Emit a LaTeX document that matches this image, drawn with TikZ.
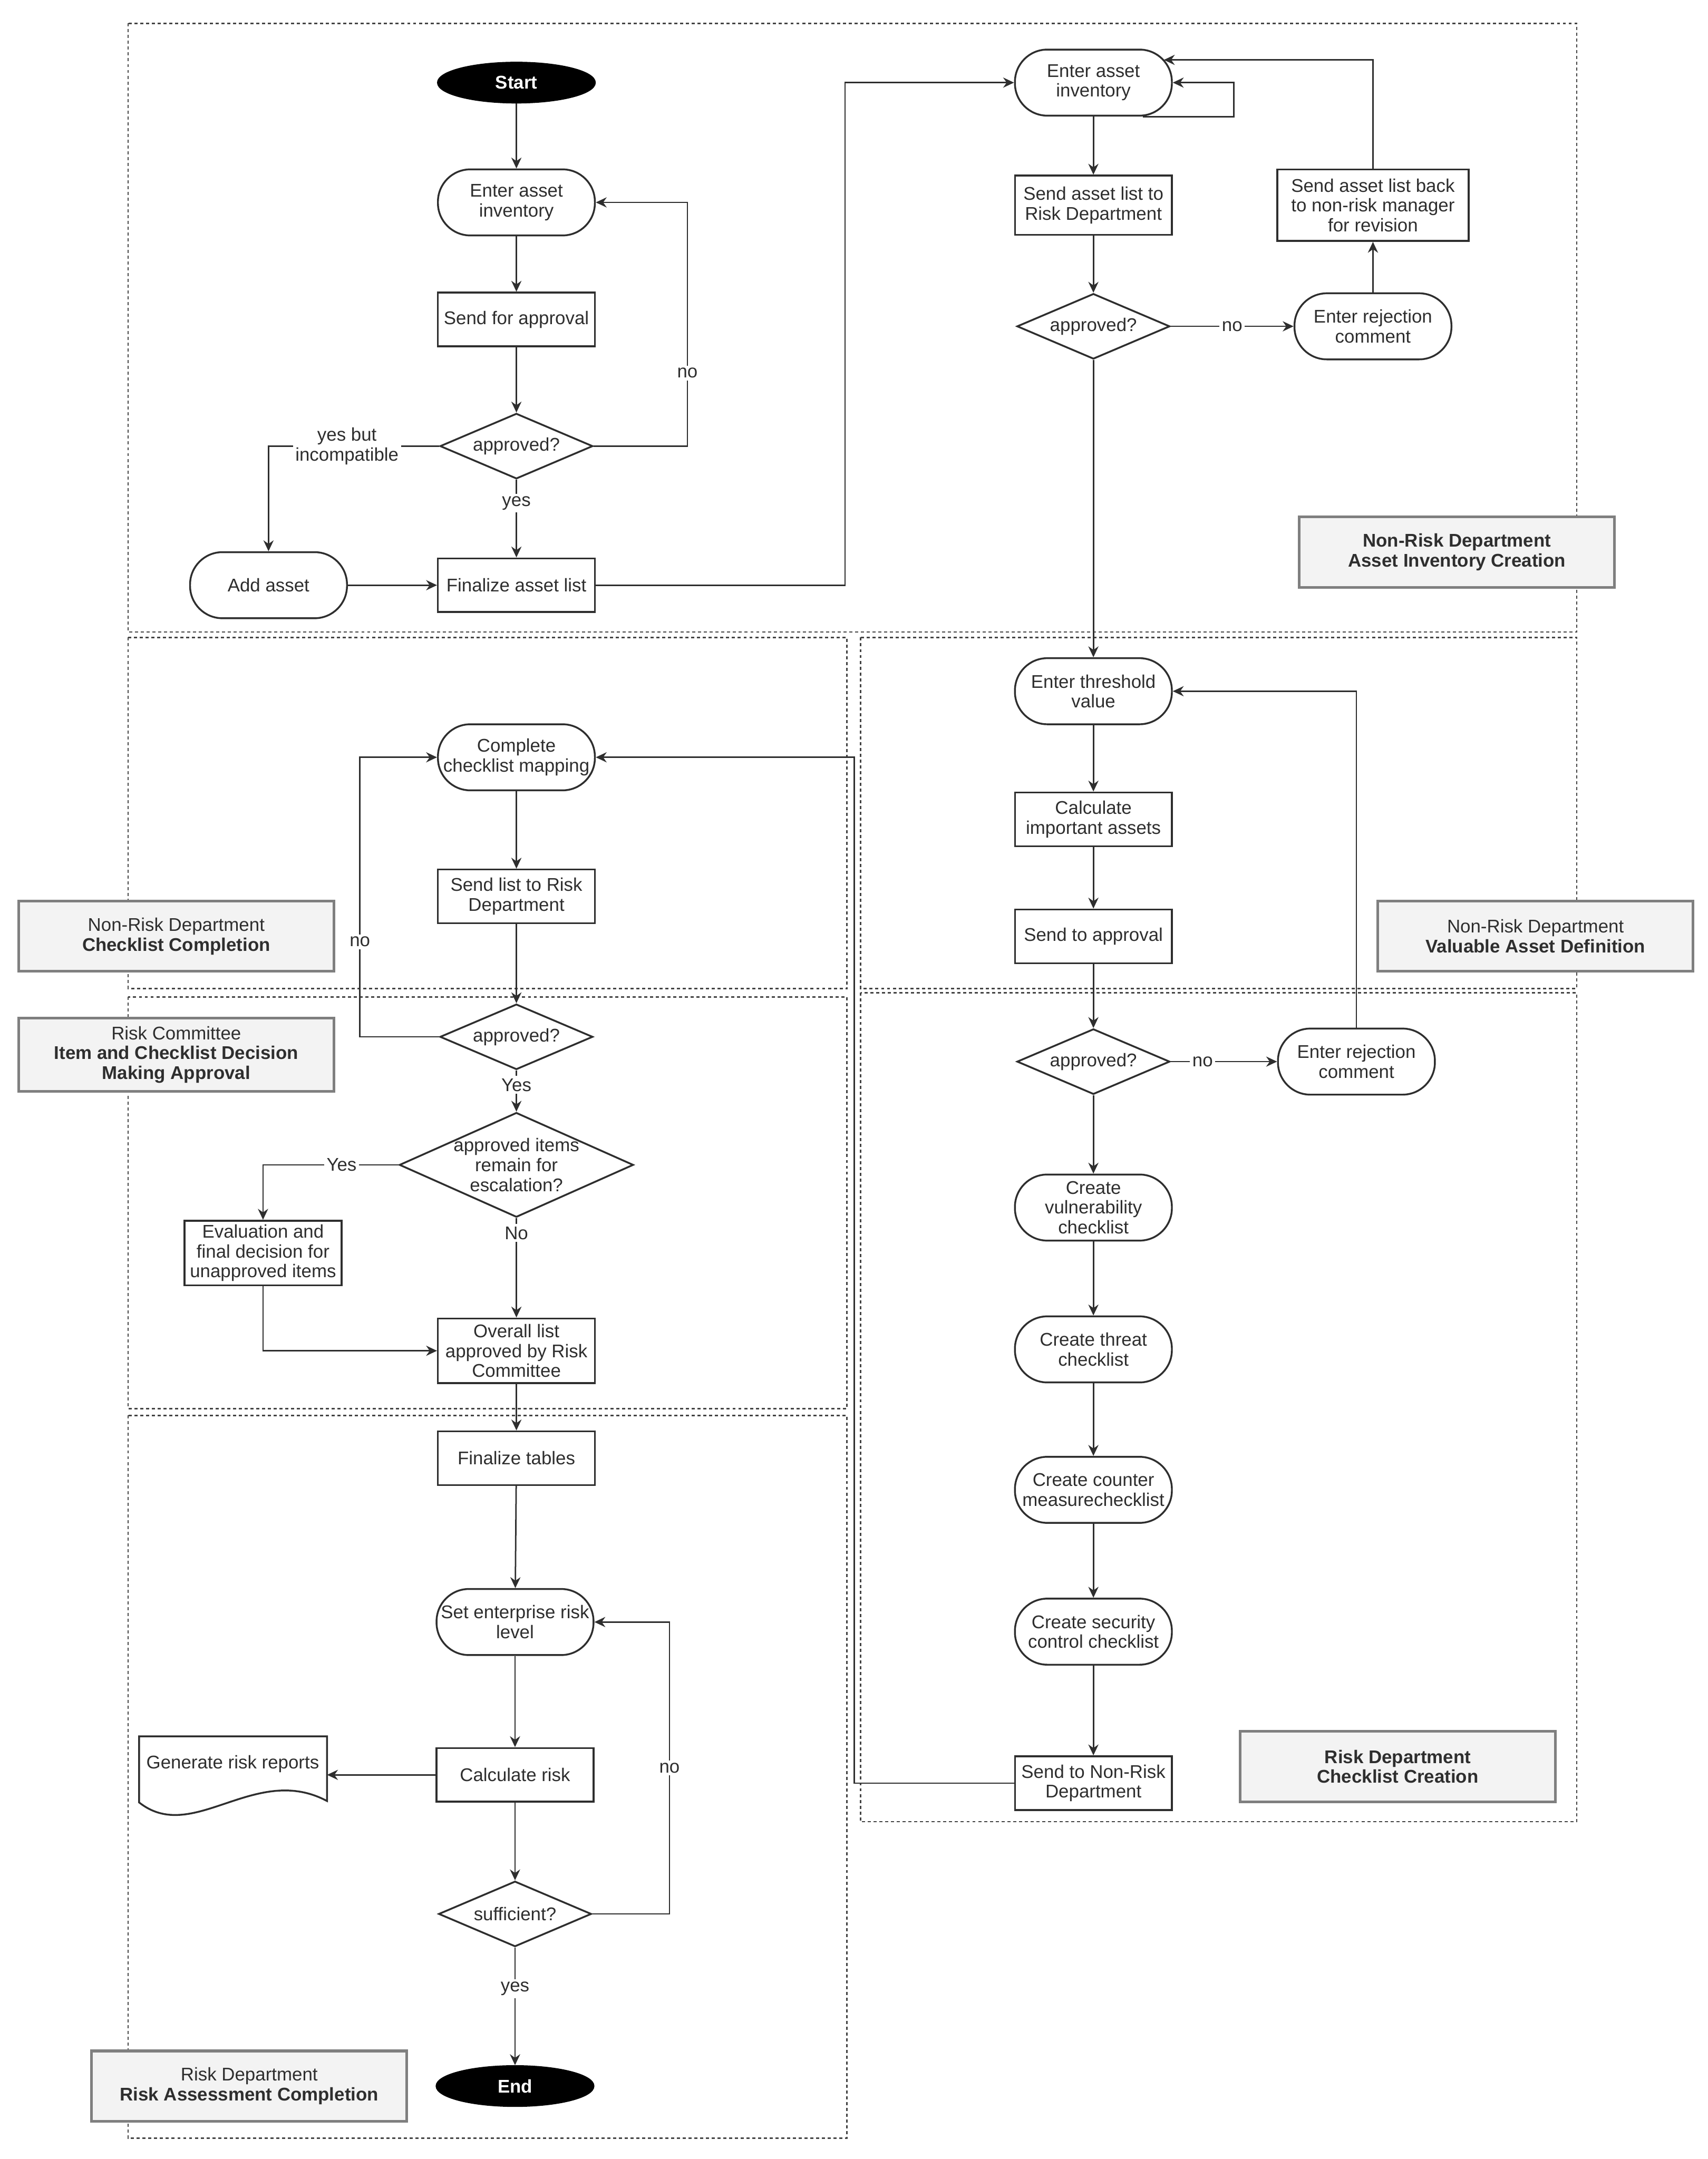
\documentclass[tikz,border=0pt]{standalone}
\usepackage{fontspec}
\setmainfont{Liberation Sans}
\usepackage{tikz}
\usetikzlibrary{positioning, shapes, arrows.meta, calc}

\definecolor{lineclr}{HTML}{2E2E2E}
\definecolor{laneclr}{HTML}{444444}
\definecolor{tagfill}{HTML}{F3F3F3}
\definecolor{tagedge}{HTML}{7F7F7F}
\newcommand{\flowfont}{\fontsize{7.6}{8.2}\selectfont}

\tikzset{
  base/.style={draw=lineclr, line width=0.75pt, text=lineclr, font=\flowfont, align=center, inner sep=1pt, fill=white},
  termbox/.style={base, rectangle, rounded corners=0.47cm, minimum width=2.28cm, minimum height=0.96cm},
  procbox/.style={base, rectangle, minimum width=2.28cm, minimum height=0.78cm},
  decision/.style={base, diamond, aspect=2.3, inner sep=0pt, minimum width=2.22cm, minimum height=0.95cm},
  startstop/.style={base, ellipse, fill=black, draw=black, text=white, font=\flowfont\bfseries, minimum width=2.28cm, minimum height=0.58cm},
  lanetag/.style={draw=tagedge, line width=1.1pt, fill=tagfill, text=lineclr, font=\flowfont, align=center, minimum width=4.58cm, minimum height=1.02cm},
  lane/.style={draw=laneclr, line width=0.6pt, dash pattern=on 1.3pt off 1.1pt},
  flow/.style={draw=lineclr, line width=0.6pt, -{Stealth[length=4.5pt, width=4.2pt]}},
  lbl/.style={fill=white, inner sep=1pt, font=\flowfont, text=lineclr, align=center}
}

\begin{document}
\begin{tikzpicture}[x=0.02cm, y=-0.02cm]
  \useasboundingbox (0,0) rectangle (1240,1568);

  % swim lanes
  \draw[lane] (93,17) rectangle (1145,459);
  \draw[lane] (93,463) rectangle (615,718);
  \draw[lane] (625,463) rectangle (1145,718);
  \draw[lane] (93,724) rectangle (615,1023);
  \draw[lane] (625,721) rectangle (1145,1323);
  \draw[lane] (93,1028) rectangle (615,1553);

  % lane tags
  \node[lanetag] (tagAIC) at (1058,401) {\textbf{Non-Risk Department}\\\textbf{Asset Inventory Creation}};
  \node[lanetag] (tagCC) at (128,680) {Non-Risk Department\\\textbf{Checklist Completion}};
  \node[lanetag] (tagRC) at (128,766) {Risk Committee\\\textbf{Item and Checklist Decision}\\\textbf{Making Approval}};
  \node[lanetag] (tagVAD) at (1115,680) {Non-Risk Department\\\textbf{Valuable Asset Definition}};
  \node[lanetag] (tagRDCC) at (1015,1283) {\textbf{Risk Department}\\\textbf{Checklist Creation}};
  \node[lanetag] (tagRAC) at (181,1515) {Risk Department\\\textbf{Risk Assessment Completion}};

  % asset inventory creation
  \node[startstop] (start) at (375,60) {Start};
  \node[termbox] (inv1) at (375,147) {Enter asset\\inventory};
  \node[procbox] (sendapp) at (375,232) {Send for approval};
  \node[decision] (appr1) at (375,324) {approved?};
  \node[procbox] (finlist) at (375,425) {Finalize asset list};
  \node[termbox] (addasset) at (195,425) {Add asset};

  \node[termbox] (inv2) at (794,60) {Enter asset\\inventory};
  \node[procbox, minimum height=0.86cm] (sendrisk) at (794,149) {Send asset list to\\Risk Department};
  \node[decision] (appr2) at (794,237) {approved?};
  \node[termbox] (rej1) at (997,237) {Enter rejection\\comment};
  \node[procbox, minimum width=2.78cm, minimum height=1.04cm] (sendback) at (997,149) {Send asset list back\\to non-risk manager\\for revision};

  % valuable asset definition
  \node[termbox] (thresh) at (794,502) {Enter threshold\\value};
  \node[procbox] (calcimp) at (794,595) {Calculate\\important assets};
  \node[procbox] (sendto) at (794,680) {Send to approval};
  \node[decision] (appr3) at (794,771) {approved?};
  \node[termbox] (rej2) at (985,771) {Enter rejection\\comment};

  % checklist creation
  \node[termbox] (vuln) at (794,877) {Create\\vulnerability\\checklist};
  \node[termbox] (threat) at (794,980) {Create threat\\checklist};
  \node[termbox] (counter) at (794,1082) {Create counter\\measurechecklist};
  \node[termbox] (secctl) at (794,1185) {Create security\\control checklist};
  \node[procbox] (sendnr) at (794,1295) {Send to Non-Risk\\Department};

  % checklist completion and committee approval
  \node[termbox] (mapping) at (375,550) {Complete\\checklist mapping};
  \node[procbox] (sendlist) at (375,651) {Send list to Risk\\Department};
  \node[decision] (appr4) at (375,753) {approved?};
  \node[decision, inner xsep=-9pt, inner ysep=-3pt, aspect=2.2, minimum width=3.4cm, minimum height=1.52cm] (escal) at (375,846) {approved items\\remain for\\escalation?};
  \node[procbox, minimum height=0.94cm] (eval) at (191,910) {Evaluation and\\final decision for\\unapproved items};
  \node[procbox, minimum height=0.94cm] (overall) at (375,981) {Overall list\\approved by Risk\\Committee};

  % risk assessment completion
  \node[procbox] (fintab) at (375,1059) {Finalize tables};
  \node[termbox] (setrisk) at (374,1178) {Set enterprise risk\\level};
  \node[procbox] (calcrisk) at (374,1289) {Calculate risk};
  \draw[draw=lineclr, line width=0.75pt, fill=white] (101,1261) -- (237.5,1261) -- (237.5,1308)
    .. controls (185,1280) and (140,1340) .. (101,1309) -- cycle;
  \node[lbl, fill=none] (report) at (169,1281) {Generate risk reports};
  \coordinate (reportin) at (237.5,1289);
  \node[decision] (suff) at (374,1390) {sufficient?};
  \node[startstop] (stop) at (374,1515) {End};

  % connectors
  \draw[flow] (start) -- (inv1);
  \draw[flow] (inv1) -- (sendapp);
  \draw[flow] (sendapp) -- (appr1);
  \draw[flow] (appr1.south) -- node[lbl, pos=0.3]{yes} (finlist.north);
  \draw[flow] (appr1.west) -| node[lbl, pos=0.27]{yes but\\incompatible} (addasset.north);
  \draw[flow] (appr1.east) -- ++(68,0) |- node[lbl, pos=0.15]{no} (inv1.east);
  \draw[flow] (addasset) -- (finlist);
  \draw[flow] (finlist.east) -- ++(181,0) |- (inv2.west);

  \draw[flow] ($(inv2.south)+(36,0)$) -- ++(66,0) |- (inv2.east);
  \draw[flow] (inv2) -- (sendrisk);
  \draw[flow] (sendrisk) -- (appr2);
  \draw[flow] (appr2.east) -- node[lbl]{no} (rej1.west);
  \draw[flow] (rej1) -- (sendback);
  \draw[flow] (sendback.north) |- ($(inv2.east)+(-6.5,-16.5)$);
  \draw[flow] (appr2.south) -- (thresh.north);

  \draw[flow] (thresh) -- (calcimp);
  \draw[flow] (calcimp) -- (sendto);
  \draw[flow] (sendto) -- (appr3);
  \draw[flow] (appr3.east) -- node[lbl, pos=0.3]{no} (rej2.west);
  \draw[flow] (rej2.north) |- (thresh.east);

  \draw[flow] (appr3) -- (vuln);
  \draw[flow] (vuln) -- (threat);
  \draw[flow] (threat) -- (counter);
  \draw[flow] (counter) -- (secctl);
  \draw[flow] (secctl) -- (sendnr);
  \draw[flow] (sendnr.west) -- ++(-116,0) |- (mapping.east);

  \draw[flow] (mapping) -- (sendlist);
  \draw[flow] (sendlist) -- (appr4);
  \draw[flow] (appr4.west) -- ++(-57.5,0) |- node[lbl, pos=0.17]{no} (mapping.west);
  \draw[flow] (appr4.south) -- node[lbl, pos=0.35]{Yes} (escal.north);
  \draw[flow] (escal.west) -| node[lbl, pos=0.21]{Yes} (eval.north);
  \draw[flow] (escal.south) -- node[lbl, pos=0.15]{No} (overall.north);
  \draw[flow] (eval.south) |- (overall.west);

  \draw[flow] (overall) -- (fintab);
  \draw[flow] (fintab) -- (setrisk);
  \draw[flow] (setrisk) -- (calcrisk);
  \draw[flow] (calcrisk.west) -- (reportin);
  \draw[flow] (calcrisk) -- (suff);
  \draw[flow] (suff.east) -- ++(56,0) |- node[lbl, pos=0.25]{no} (setrisk.east);
  \draw[flow] (suff.south) -- node[lbl, pos=0.35]{yes} (stop.north);
\end{tikzpicture}
\end{document}
